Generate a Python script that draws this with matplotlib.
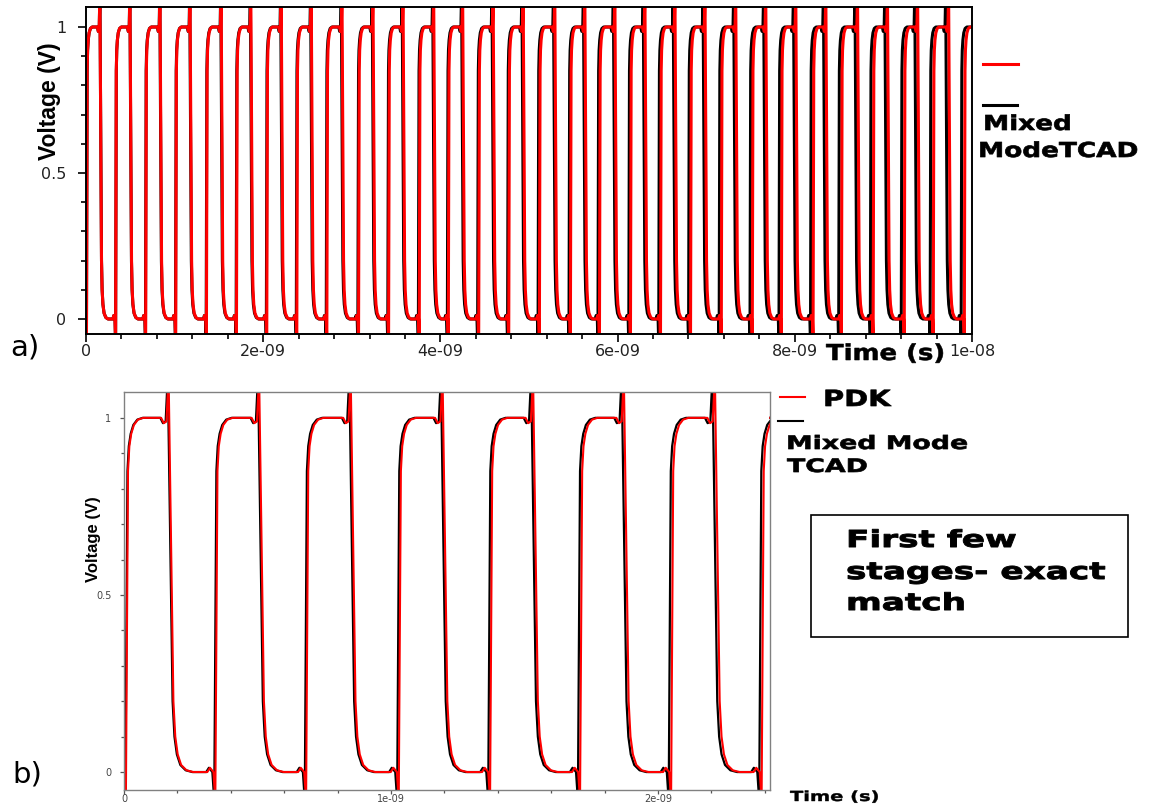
import numpy as np
import matplotlib.pyplot as plt
from matplotlib.lines import Line2D
from matplotlib.patches import Rectangle
from matplotlib.patheffects import AbstractPathEffect
from matplotlib.ticker import MultipleLocator, FuncFormatter
from matplotlib.transforms import Affine2D

# ---- switching times (ns) at the 0.5 V crossing ----
# a) full 10 ns run
a_pdk_rise = [0.010, 0.339, 0.678, 1.017, 1.364, 1.703, 2.045, 2.384, 2.723, 3.081,
              3.420, 3.766, 4.094, 4.437, 4.776, 5.122, 5.472, 5.800, 6.150, 6.489,
              6.828, 7.175, 7.525, 7.853, 8.211, 8.531, 8.889, 9.240, 9.567, 9.918]
a_pdk_fall = [0.169, 0.508, 0.847, 1.186, 1.537, 1.872, 2.215, 2.554, 2.901, 3.251,
              3.590, 3.936, 4.263, 4.607, 4.946, 5.303, 5.642, 5.981, 6.320, 6.659,
              6.998, 7.345, 7.684, 8.023, 8.362, 8.720, 9.058, 9.398, 9.748]
a_tcad_rise = [0.010, 0.339, 0.676, 1.015, 1.361, 1.699, 2.040, 2.378, 2.716, 3.073,
               3.411, 3.756, 4.083, 4.425, 4.763, 5.107, 5.456, 5.783, 6.131, 6.469,
               6.806, 7.151, 7.499, 7.826, 8.182, 8.500, 8.857, 9.206, 9.532, 9.882]
a_tcad_fall = [0.169, 0.507, 0.845, 1.183, 1.533, 1.867, 2.209, 2.547, 2.893, 3.242,
               3.580, 3.925, 4.251, 4.594, 4.932, 5.288, 5.626, 5.964, 6.301, 6.639,
               6.976, 7.322, 7.660, 7.997, 8.335, 8.691, 9.028, 9.366, 9.715]
a_stop = 10.0

# b) first few stages
b_pdk_rise = [0.012, 0.347, 0.687, 1.034, 1.376, 1.713, 2.054, 2.393]
b_pdk_fall = [0.179, 0.518, 0.861, 1.205, 1.544, 1.884, 2.225]
b_tcad_rise = [0.010, 0.343, 0.682, 1.028, 1.369, 1.705, 2.045, 2.384]
b_tcad_fall = [0.176, 0.514, 0.856, 1.199, 1.537, 1.876, 2.216]
b_stop = 2.42

# edge shapes around a crossing (ns offset, volts)
rise_dt = [-0.035, -0.025, -0.012, -0.005, 0.0, 0.003, 0.008, 0.015, 0.025, 0.04, 0.06]
rise_v = [0.0, 0.012, 0.0, -0.08, 0.5, 0.85, 0.92, 0.955, 0.98, 0.995, 1.0]
fall_dt = [-0.04, -0.03, -0.02, -0.012, 0.0, 0.006, 0.013, 0.022, 0.035, 0.055, 0.08]
fall_v = [1.0, 0.985, 0.99, 1.12, 0.5, 0.2, 0.1, 0.05, 0.02, 0.005, 0.0]


def build(rises, falls, stop):
    edges = [(t, rise_dt, rise_v) for t in rises] + [(t, fall_dt, fall_v) for t in falls]
    edges.sort(key=lambda e: e[0])
    t, v = [], []
    for t0, dts, vs in edges:
        t.extend(t0 + d for d in dts)
        v.extend(vs)
    t.append(stop)
    v.append(v[-1])
    return np.array(t) * 1e-9, np.array(v)


class Widen(AbstractPathEffect):
    """stretch glyphs along the baseline, optionally with an outline to fatten them"""

    def __init__(self, sx, weight=0.0):
        super().__init__()
        self.sx = sx
        self.weight = weight

    def draw_path(self, renderer, gc, tpath, affine, rgbFace=None):
        aff = Affine2D().scale(self.sx, 1) + affine
        gc0 = renderer.new_gc()
        gc0.copy_properties(gc)
        if self.weight and rgbFace is not None:
            gc0.set_linewidth(self.weight)
            gc0.set_foreground(rgbFace)
            gc0.set_joinstyle('round')
        renderer.draw_path(gc0, tpath, aff, rgbFace)
        gc0.restore()


W, H = 1156, 808
fig = plt.figure(figsize=(W / 100, H / 100), dpi=100)


def fx(x):
    return x / W


def fy(y):
    return 1 - y / H


def label(x, y, s, size, sx=1.0, weight=0.0, **kw):
    t = fig.text(fx(x), fy(y), s, fontsize=size, ha='left', va='baseline', **kw)
    if sx != 1.0 or weight:
        t.set_path_effects([Widen(sx, weight)])
    return t


sci = FuncFormatter(lambda x, pos: '{:g}'.format(x))

# ---- a) ----
ax1 = fig.add_axes([fx(86), fy(334), fx(972) - fx(86), fy(7) - fy(334)])
t, v = build(a_tcad_rise, a_tcad_fall, a_stop)
ax1.plot(t, v, color='black', lw=2.2)
t, v = build(a_pdk_rise, a_pdk_fall, a_stop)
ax1.plot(t, v, color='red', lw=2.2)
ax1.set_xlim(0, 1.0e-8)
ax1.set_ylim(-0.0514, 1.0685)
ax1.xaxis.set_major_locator(MultipleLocator(2e-9))
ax1.xaxis.set_minor_locator(MultipleLocator(0.4e-9))
ax1.yaxis.set_major_locator(MultipleLocator(0.5))
ax1.yaxis.set_minor_locator(MultipleLocator(0.1))
ax1.xaxis.set_major_formatter(sci)
ax1.yaxis.set_major_formatter(sci)
for s in ax1.spines.values():
    s.set_linewidth(1.4)
ax1.tick_params(which='both', direction='out', width=1.2, labelsize=11.5, labelcolor='#222')
ax1.tick_params(which='major', length=6)
ax1.tick_params(which='minor', length=3.6)
ax1.tick_params(axis='y', pad=8)
ax1.tick_params(axis='x', pad=1)

fig.text(fx(56), fy(160), 'Voltage (V)', rotation=90, rotation_mode='anchor',
         ha='left', va='baseline', fontsize=16.5, fontweight='bold',
         family='Liberation Sans')
label(826, 360, 'Time (s)', 15.8, 1.18, 0.4, fontweight='bold')

fig.add_artist(Line2D([fx(983), fx(1018)], [fy(64)] * 2, color='red', lw=2.2))
fig.add_artist(Line2D([fx(983), fx(1017)], [fy(105)] * 2, color='black', lw=2.2))
label(983, 130, 'Mixed', 14.8, 1.28, 0.5, fontweight='bold')
label(978, 157, 'ModeTCAD', 14.8, 1.28, 0.5, fontweight='bold')
label(10, 356, 'a)', 21)

# ---- b) ----
ax2 = fig.add_axes([fx(124), fy(790), fx(770) - fx(124), fy(392) - fy(790)])
t, v = build(b_tcad_rise, b_tcad_fall, b_stop)
ax2.plot(t, v, color='black', lw=1.6)
t, v = build(b_pdk_rise, b_pdk_fall, b_stop)
ax2.plot(t, v, color='red', lw=1.5)
ax2.set_xlim(0, 2.4195e-9)
ax2.set_ylim(-0.0507, 1.073)
ax2.xaxis.set_major_locator(MultipleLocator(1e-9))
ax2.xaxis.set_minor_locator(MultipleLocator(0.2e-9))
ax2.yaxis.set_major_locator(MultipleLocator(0.5))
ax2.yaxis.set_minor_locator(MultipleLocator(0.1))
ax2.xaxis.set_major_formatter(sci)
ax2.yaxis.set_major_formatter(sci)
for s in ax2.spines.values():
    s.set_linewidth(1.0)
    s.set_color('#808080')
ax2.tick_params(which='both', direction='out', width=0.9, color='#555',
                labelsize=7, labelcolor='#444')
ax2.tick_params(which='major', length=3)
ax2.tick_params(which='minor', length=2)
ax2.tick_params(axis='y', pad=6)
ax2.tick_params(axis='x', pad=0)

fig.text(fx(98), fy(582), 'Voltage (V)', rotation=90, rotation_mode='anchor',
         ha='left', va='baseline', fontsize=12, fontweight='bold',
         family='Liberation Sans')
label(790, 801, 'Time (s)', 10, 1.4, 0.3, fontweight='bold')

fig.add_artist(Line2D([fx(780), fx(805)], [fy(397)] * 2, color='red', lw=1.5))
fig.add_artist(Line2D([fx(778), fx(803)], [fy(421)] * 2, color='black', lw=1.5))
label(823, 406, 'PDK', 16, 1.3, 0.5, fontweight='bold')
label(786, 449, 'Mixed Mode', 13.3, 1.45, 0.5, fontweight='bold')
label(787, 472, 'TCAD', 13.3, 1.45, 0.5, fontweight='bold')
label(12, 782, 'b)', 21)

# note box
fig.add_artist(Rectangle((fx(811), fy(637)), fx(1128) - fx(811), fy(515) - fy(637),
                         transform=fig.transFigure, fill=False, ec='black', lw=1.2))
for y, line in zip([547, 579, 610], ['First few', 'stages- exact', 'match']):
    label(846, y, line, 16.8, 1.47, 0.7, fontweight='bold')

fig.savefig('out.png', dpi=100)
